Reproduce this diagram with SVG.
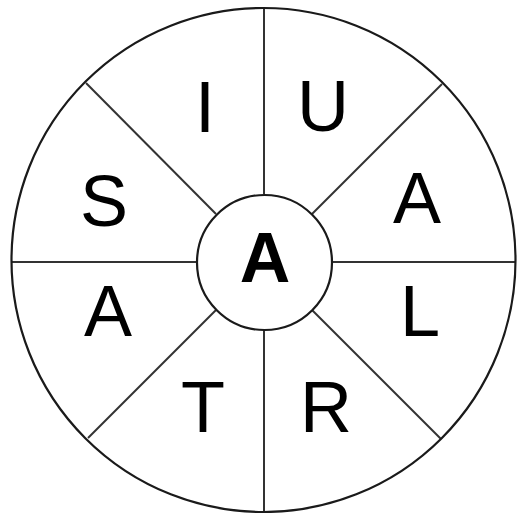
<svg xmlns="http://www.w3.org/2000/svg" width="519" height="513" viewBox="0 0 519 513">
<style>
.ring{fill:none;stroke:#1a1a1a;stroke-width:2.2}
.sp{stroke:#333;stroke-width:2}
.t{font-family:"Liberation Sans",Arial,sans-serif;font-size:72px;fill:#000;text-anchor:middle}
.c{font-family:"Liberation Sans",Arial,sans-serif;font-size:70px;font-weight:bold;fill:#000;text-anchor:middle}
</style>
<rect width="519" height="513" fill="#fff"/>
<g id="connectors">
<line class="sp" x1="264" y1="194" x2="264" y2="8"/>
<line class="sp" x1="264" y1="330" x2="264" y2="512"/>
<line class="sp" x1="196" y1="262" x2="12" y2="262"/>
<line class="sp" x1="332" y1="262" x2="515" y2="262"/>
<line class="sp" x1="216" y1="214" x2="86" y2="83"/>
<line class="sp" x1="312" y1="214" x2="442" y2="84"/>
<line class="sp" x1="216" y1="310" x2="88" y2="438"/>
<line class="sp" x1="312" y1="310" x2="441" y2="439"/>
</g>
<g id="outer"><circle class="ring" cx="263.5" cy="260" r="252"/></g>
<g id="center"><circle class="ring" cx="264.5" cy="262.5" r="67.5" fill="#fff"/><text class="c" x="265" y="282">A</text></g>
<g id="n-I"><text class="t" x="205" y="132">I</text></g>
<g id="n-U"><text class="t" x="323" y="131">U</text></g>
<g id="n-A1"><text class="t" x="417" y="223">A</text></g>
<g id="n-L"><text class="t" x="420" y="336">L</text></g>
<g id="n-R"><text class="t" x="326" y="432">R</text></g>
<g id="n-T"><text class="t" x="203" y="432">T</text></g>
<g id="n-A2"><text class="t" x="108" y="336">A</text></g>
<g id="n-S"><text class="t" x="104" y="226">S</text></g>
</svg>
